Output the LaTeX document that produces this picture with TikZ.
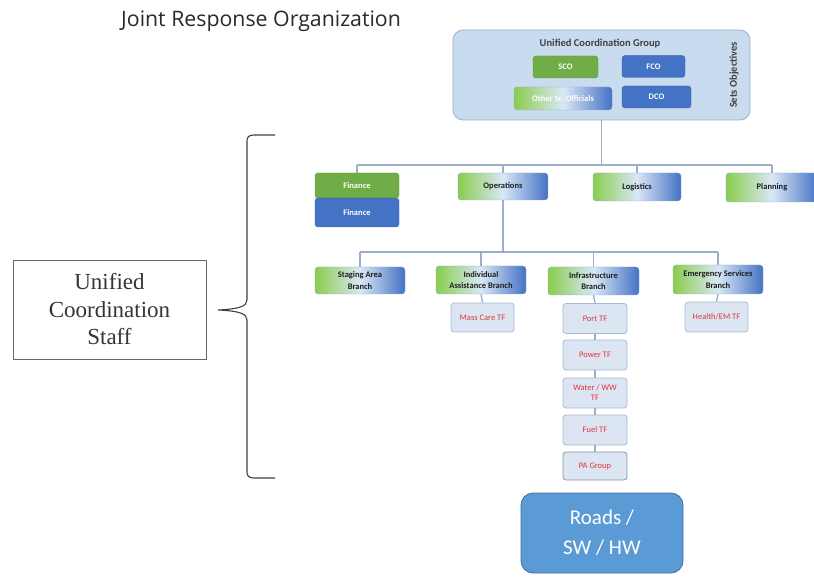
\documentclass[tikz,border=0pt]{standalone}
\usepackage{fontspec}
\setmainfont{Liberation Serif}
\newfontfamily\calibri{Carlito}
\newfontfamily\opensans{Open Sans}
\usetikzlibrary{positioning}

\definecolor{grn}{HTML}{70AD47}
\definecolor{lgrn}{HTML}{8ACD4E}
\definecolor{blu}{HTML}{4472C4}
\definecolor{pale}{HTML}{D9E7F6}
\definecolor{ucgfill}{HTML}{C8DBEF}
\definecolor{ucgline}{HTML}{97B3D5}
\definecolor{tffill}{HTML}{DCE5F2}
\definecolor{tfline}{HTML}{A7BAD4}
\definecolor{tftext}{HTML}{E2343E}
\definecolor{wire}{HTML}{9BAFC8}
\definecolor{roadfill}{HTML}{5B9BD5}
\definecolor{roadline}{HTML}{41719C}
\definecolor{ink}{HTML}{1E1E1E}

\tikzset{
  box/.style={rounded corners=3pt, inner sep=1pt, align=center,
    font=\calibri\bfseries\fontsize{8.5}{11.5}\selectfont},
  solidgreen/.style={box, fill=grn, draw=grn!85!black, text=white},
  solidblue/.style={box, fill=blu, draw=blu!85!black, text=white},
  fade/.style={box, left color=lgrn, right color=blu, middle color=pale,
    draw=blu!60, text=ink},
  tf/.style={rounded corners=3pt, fill=tffill, draw=tfline, line width=0.8pt,
    text=tftext, align=center, inner sep=1pt,
    font=\calibri\fontsize{8.5}{10}\selectfont},
  wire/.style={draw=wire, line width=1.3pt},
}

\begin{document}
\begin{tikzpicture}[x=1pt, y=-1pt]
\useasboundingbox (0,0) rectangle (814,577);

% title
\node[anchor=base west, inner sep=0pt, text=ink!95,
      font=\opensans\fontsize{21.3}{24}\selectfont] (title) at (121,27)
      {Joint Response Organization};

% Unified Coordination Group
\node[rounded corners=10pt, fill=ucgfill, draw=ucgline, line width=0.8pt,
      minimum width=297pt, minimum height=90pt] (ucg) at (601.5,75) {};
\node[font=\calibri\bfseries\fontsize{10.5}{12}\selectfont, text=ink!85]
      (ucgtitle) at (600,44) {Unified Coordination Group};
\node[rotate=90, font=\calibri\bfseries\fontsize{10.5}{12}\selectfont, text=ink!85]
      (obj) at (734,75) {Sets Objectives};
\node[solidgreen, minimum width=65pt, minimum height=22pt] (sco) at (565.5,67) {SCO};
\node[solidblue, minimum width=63pt, minimum height=22pt] (fco) at (653.5,66.5) {FCO};
\node[fade, text=white, minimum width=98pt, minimum height=23pt] (osr) at (563,98.5) {Other Sr. Officials};
\node[solidblue, minimum width=69pt, minimum height=22pt] (dco) at (656.5,97) {DCO};

% sections
\node[solidgreen, minimum width=84pt, minimum height=25pt] (fing) at (357,185.5) {Finance};
\node[solidblue, minimum width=84pt, minimum height=29pt] (finb) at (357,212.5) {Finance};
\node[fade, minimum width=90pt, minimum height=27pt] (ops) at (503,186.5) {Operations};
\node[fade, minimum width=88pt, minimum height=28pt] (log) at (637,187) {Logistics};
\node[fade, minimum width=92pt, minimum height=29pt] (plan) at (772,187.5) {Planning};

% branches
\node[fade, minimum width=90pt, minimum height=27pt] (stg) at (360,280.5) {Staging Area\\Branch};
\node[fade, minimum width=90pt, minimum height=28pt] (ind) at (481,280) {Individual\\Assistance Branch};
\node[fade, minimum width=91pt, minimum height=28pt] (inf) at (593.5,281) {Infrastructure\\Branch};
\node[fade, minimum width=90pt, minimum height=29pt] (ems) at (718,279.5) {Emergency Services\\Branch};

% task forces
\node[tf, minimum width=63pt, minimum height=29pt] (mass) at (482.5,317.5) {Mass Care TF};
\node[tf, minimum width=64pt, minimum height=30pt] (port) at (595,318.5) {Port TF};
\node[tf, minimum width=63pt, minimum height=30pt] (hlth) at (716.5,317) {Health/EM TF};
\node[tf, minimum width=64pt, minimum height=30pt] (powr) at (595,355) {Power TF};
\node[tf, minimum width=64pt, minimum height=30pt] (wat) at (595,393) {Water / WW\\TF};
\node[tf, minimum width=64pt, minimum height=30pt] (fuel) at (595,430) {Fuel TF};
\node[tf, draw=tfline!80!black, minimum width=64pt, minimum height=28pt] (pa) at (595,466) {PA Group};

% roads
\node[rounded corners=12pt, fill=roadfill, draw=roadline, line width=0.8pt,
      text=white, align=center, minimum width=162pt, minimum height=80pt,
      font=\calibri\fontsize{21}{30}\selectfont] (roads) at (602,533) {Roads /\\SW / HW};

% staff label
\node[draw=black!60, line width=0.8pt, minimum width=193pt, minimum height=99pt,
      align=center, text=ink!90, font=\fontsize{23}{27.5}\selectfont]
      (staff) at (109.5,309.5) {Unified\\Coordination\\Staff};

% connectors
\coordinate (bus1) at (601,165);
\coordinate (bus2) at (503,252);
\path[wire] (ucg.south) -- (ucg.south |- bus1);
\path[wire] (fing.north |- bus1) -- (plan.north |- bus1);
\foreach \n in {fing,ops,log,plan} \path[wire] (\n.north |- bus1) -- (\n.north);
\path[wire] (ops.south) -- (ops.south |- bus2);
\path[wire] (stg.north |- bus2) -- (ems.north |- bus2);
\foreach \n in {stg,ind,inf,ems} \path[wire] (\n.north |- bus2) -- (\n.north);
\path[wire] (ind.south) -- (mass.north);
\path[wire] (ems.south) -- (hlth.north);
\path[wire] (inf.south) -- (port.north);
\path[wire] (port.south) -- (powr.north);
\path[wire] (powr.south) -- (wat.north);
\path[wire] (wat.south) -- (fuel.north);
\path[wire] (fuel.south) -- (pa.north);

% brace
\coordinate (bracetop) at (275,135);
\coordinate (braceend) at (275,478);
\coordinate (bracetip) at (218,310);
\draw[black!75, line width=1.1pt]
  (bracetop) -- (254,135) .. controls (249,135) and (247,137) .. (247,141)
  -- (247,300) .. controls (247,306) and (240,309) .. (bracetip)
  .. controls (240,311) and (247,314) .. (247,320)
  -- (247,472) .. controls (247,476) and (249,478) .. (254,478) -- (braceend);
\end{tikzpicture}
\end{document}
